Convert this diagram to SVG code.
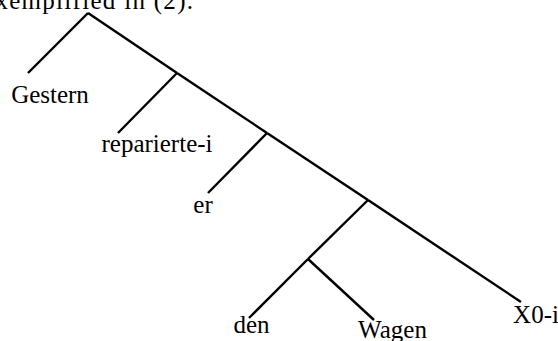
<svg xmlns="http://www.w3.org/2000/svg" width="558" height="341" viewBox="0 0 558 341" font-family="'Liberation Serif', 'DejaVu Serif', serif">
<style>
  text { font-family: "Liberation Serif", "DejaVu Serif", serif; font-size: 25px; fill: #000; }
  .lbl { text-anchor: middle; }
  .edge { stroke: #000; stroke-width: 2.4; fill: none; stroke-linecap: butt; }
</style>
<rect width="558" height="341" fill="#fff"/>
<text x="-17" y="9" textLength="210" lengthAdjust="spacing">exemplified in (2).</text>
<g id="connectors">
  <line class="edge" x1="88" y1="13" x2="28" y2="73"/>
  <line class="edge" x1="88" y1="13" x2="177" y2="73"/>
  <line class="edge" x1="177" y1="73" x2="118" y2="133"/>
  <line class="edge" x1="177" y1="73" x2="267" y2="133"/>
  <line class="edge" x1="267" y1="133" x2="208" y2="193"/>
  <line class="edge" x1="267" y1="133" x2="368" y2="200"/>
  <line class="edge" x1="368" y1="200" x2="308" y2="259"/>
  <line class="edge" x1="368" y1="200" x2="521" y2="302"/>
  <line class="edge" x1="308" y1="259" x2="249" y2="318"/>
  <line class="edge" x1="308" y1="259" x2="374" y2="320"/>
</g>
<g id="n-gestern"><text class="lbl" x="50" y="103">Gestern</text></g>
<g id="n-reparierte"><text class="lbl" x="157" y="152">reparierte-i</text></g>
<g id="n-er"><text class="lbl" x="203" y="213">er</text></g>
<g id="n-den"><text class="lbl" x="251.5" y="333">den</text></g>
<g id="n-wagen"><text class="lbl" x="392.5" y="338">Wagen</text></g>
<g id="n-x0i"><text class="lbl" x="536" y="323">X0-i</text></g>
</svg>
